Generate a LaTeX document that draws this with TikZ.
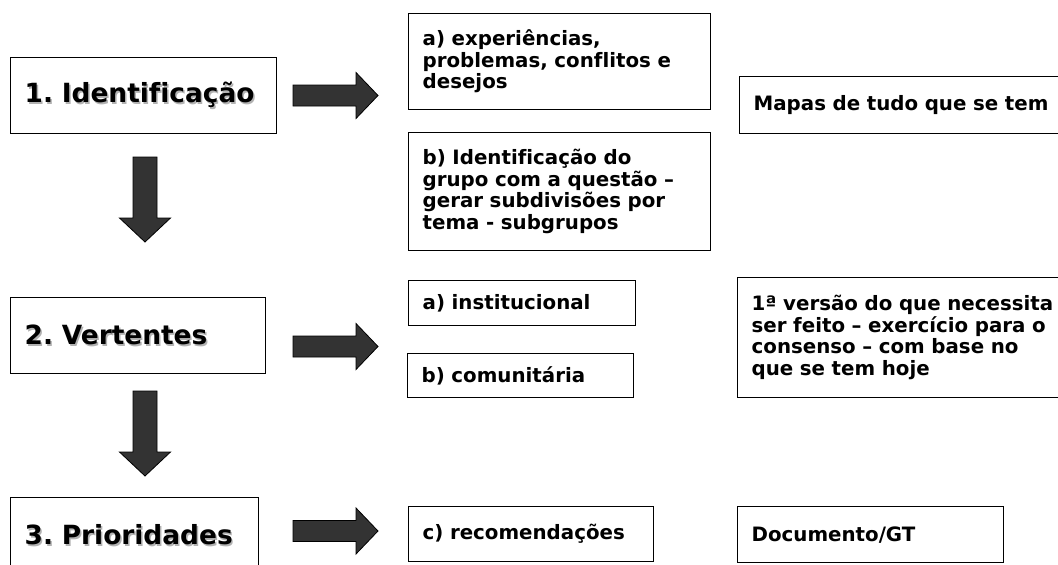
\documentclass[tikz,border=0pt]{standalone}
\usepackage{fontspec}
\setmainfont{DejaVu Sans}[Ligatures=NoCommon]

\definecolor{arrowgray}{RGB}{51,51,51}
\newcommand{\shadowed}[1]{\makebox[0pt][l]{\hspace{1.5pt}\raisebox{-1.5pt}{\color{black!30}#1}}#1}

\tikzset{
  stepbox/.style={draw, line width=1.3pt, anchor=north west, inner xsep=14pt, inner ysep=0pt,
    align=left, font=\frenchspacing\bfseries\fontsize{26.4}{30}\selectfont},
  itembox/.style={draw, line width=1.3pt, anchor=north west, inner xsep=14pt, inner ysep=0pt,
    align=left, font=\bfseries\fontsize{19.8}{21.5}\selectfont},
  pics/rarrow/.style={code={
    \draw[fill=arrowgray, line width=0.8pt] (0,-10.5) -- (63,-10.5) -- (63,-23) -- (85,0)
      -- (63,23) -- (63,10.5) -- (0,10.5) -- cycle;}},
  pics/darrow/.style={code={
    \draw[fill=arrowgray, line width=0.8pt] (-12,0) -- (-12,61) -- (-25.5,61) -- (0,85)
      -- (25.5,61) -- (12,61) -- (12,0) -- cycle;}},
}

\begin{document}
\begin{tikzpicture}[x=1pt, y=-1pt]
  \useasboundingbox (0,0) rectangle (1058,565);
  \clip (0,0) rectangle (1058,565);

  % steps on the left
  \node[stepbox, text width=238pt, minimum height=76pt] (ident) at (10,57) {\shadowed{1. Identificação}};
  \node[stepbox, text width=227pt, minimum height=76pt] (vert) at (10,297) {\shadowed{2. Vertentes}};
  \node[stepbox, text width=220pt, minimum height=76pt] (prior) at (10,497) {\shadowed{3. Prioridades}};

  \pic at (145,157) {darrow};
  \pic at (145,391) {darrow};

  \pic at (293,95.5) {rarrow};
  \pic at (293,346.5) {rarrow};
  \pic at (293,531) {rarrow};

  % middle column
  \node[itembox, text width=274pt, minimum height=96pt] (exper) at (408,13)
    {a) experiências,\\problemas, conflitos e\\desejos};
  \node[itembox, text width=274pt, minimum height=118pt] (grupo) at (408,132)
    {b) Identificação do\\grupo com a questão –\\gerar subdivisões por\\tema - subgrupos};
  \node[itembox, text width=199pt, minimum height=45pt] (inst) at (408,280) {a) institucional};
  \node[itembox, text width=198pt, minimum height=44pt] (comun) at (407,353) {b) comunitária};
  \node[itembox, text width=217pt, minimum height=55pt] (recom) at (408,506) {c) recomendações};

  % right column
  \node[itembox, text width=312pt, minimum height=57pt] (mapas) at (739,76) {Mapas de tudo que se tem};
  \node[itembox, text width=312pt, minimum height=120pt] (versao) at (737,277)
    {1ª versão do que necessita\\ser feito – exercício para o\\consenso – com base no\\que se tem hoje};
  \node[itembox, text width=238pt, minimum height=56pt] (docgt) at (737,506) {Documento/GT};
\end{tikzpicture}
\end{document}
